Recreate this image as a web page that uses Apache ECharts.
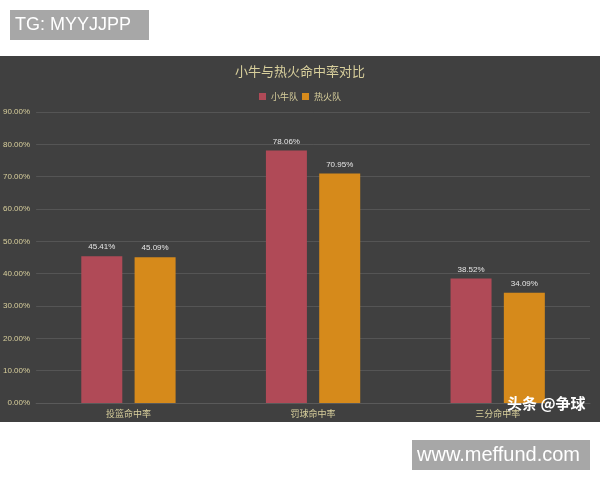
<!DOCTYPE html>
<html><head><meta charset="utf-8">
<script src="https://cdn.jsdelivr.net/npm/echarts@6/dist/echarts.min.js"></script>
<style>html,body{margin:0;padding:0;background:#fff}#c{width:600px;height:480px}</style>
</head><body><div id="c"></div>
<script>
const categories = ['投篮命中率', '罚球命中率', '三分命中率'];
const seriesNames = ['小牛队', '热火队'];
const mavs = [45.41, 78.06, 38.52];
const heat = [45.09, 70.95, 34.09];
const yTicks = [0, 10, 20, 30, 40, 50, 60, 70, 80, 90];

const chart = echarts.init(document.getElementById('c'), null, {renderer: 'canvas'});
const fontCJK = '"Noto Sans CJK SC", "Noto Sans", sans-serif';
chart.setOption({
  backgroundColor: '#ffffff',
  animation: false,
  graphic: [
    {type: 'rect', left: 0, top: 56, shape: {width: 600, height: 366}, style: {fill: '#404040'}, z: -10},
    {type: 'rect', left: 10, top: 10, shape: {width: 139, height: 30}, style: {fill: '#a7a7a7'}, z: 10},
    {type: 'text', x: 15, y: 25, style: {text: 'TG: MYYJJPP', fill: '#ffffff', font: '18px "Liberation Sans", Arial, sans-serif', textVerticalAlign: 'middle'}, z: 11},
    {type: 'rect', left: 412, top: 440, shape: {width: 178, height: 30}, style: {fill: '#a7a7a7'}, z: 10},
    {type: 'text', x: 417, y: 455, style: {text: 'www.meffund.com', fill: '#ffffff', font: '20px "Liberation Sans", Arial, sans-serif', textVerticalAlign: 'middle'}, z: 11},
    {type: 'text', left: 507, top: 396, style: {text: '头条 @争球', fill: '#ffffff', font: 'bold 15px ' + fontCJK, shadowColor: 'rgba(0,0,0,0.8)', shadowBlur: 3}, z: 12}
  ],
  title: {
    text: '小牛与热火命中率对比', left: 'center', top: 60,
    textStyle: {color: '#d8cf9c', fontSize: 13, fontWeight: 'normal', fontFamily: fontCJK}
  },
  legend: {
    data: seriesNames, top: 87, left: 'center', itemWidth: 7, itemHeight: 7, itemGap: 4,
    icon: 'rect',
    textStyle: {color: '#d8cf9c', fontSize: 9, fontFamily: fontCJK}
  },
  grid: {left: 36, right: 10, top: 112, bottom: 77, containLabel: false},
  xAxis: {
    type: 'category', data: categories,
    axisLine: {show: true, lineStyle: {color: '#5a5a5a'}},
    axisTick: {show: false},
    axisLabel: {color: '#d8cf9c', fontSize: 9, margin: 6, fontFamily: fontCJK}
  },
  yAxis: {
    type: 'value', min: 0, max: 90, interval: 10,
    axisLine: {show: false}, axisTick: {show: false},
    splitLine: {lineStyle: {color: '#555555'}},
    axisLabel: {color: '#d8cf9c', fontSize: 8, margin: 6, fontFamily: '"Liberation Sans", sans-serif',
      formatter: v => yTicks.includes(v) ? v.toFixed(2) + '%' : ''}
  },
  series: [
    {name: seriesNames[0], type: 'bar', data: mavs, barWidth: 41, barGap: '30%',
      itemStyle: {color: '#b04a57'},
      label: {show: true, position: 'top', distance: 5, color: '#e6e6e6', fontSize: 8, formatter: p => p.value.toFixed(2) + '%'}},
    {name: seriesNames[1], type: 'bar', data: heat, barWidth: 41,
      itemStyle: {color: '#d68a1b'},
      label: {show: true, position: 'top', distance: 5, color: '#e6e6e6', fontSize: 8, formatter: p => p.value.toFixed(2) + '%'}}
  ]
});
</script></body></html>
